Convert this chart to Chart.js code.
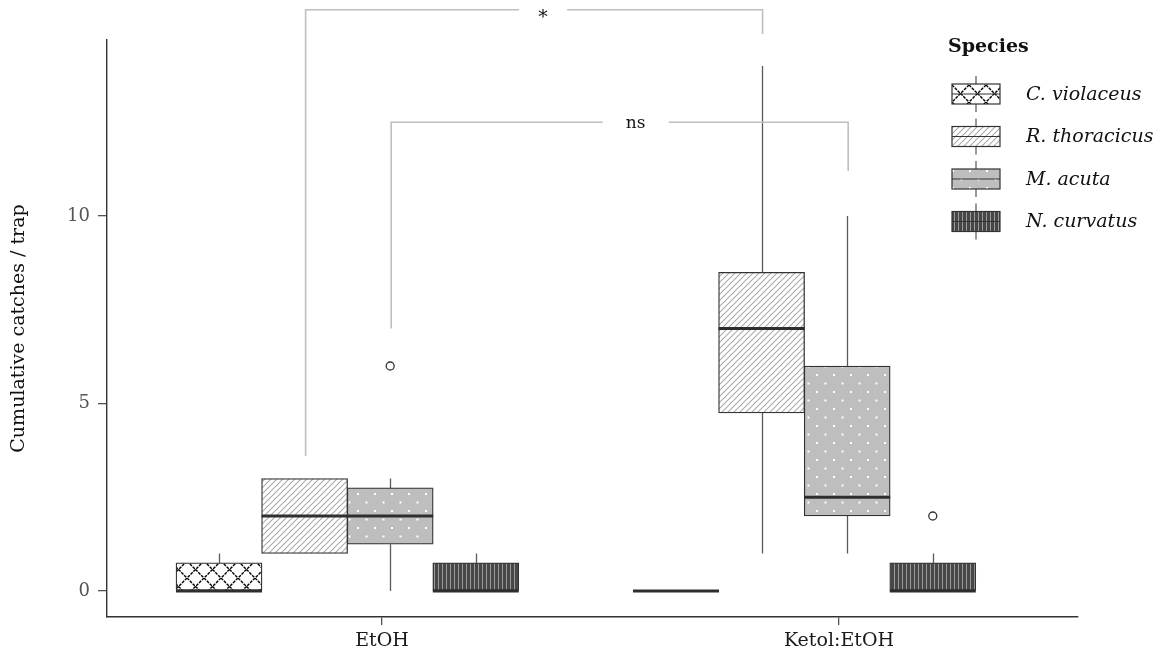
<!DOCTYPE html>
<html>
<head>
<meta charset="utf-8">
<script src="https://cdn.jsdelivr.net/npm/chart.js@4.4.1/dist/chart.umd.min.js"></script>
<style>
  html, body { margin: 0; padding: 0; background: #fff; }
  #wrap { width: 1162px; height: 659px; }
</style>
</head>
<body>
<div id="wrap"><canvas id="chart" width="1162" height="659"></canvas></div>
<script>
const categories = ['EtOH', 'Ketol:EtOH'];
const species = ['C. violaceus', 'R. thoracicus', 'M. acuta', 'N. curvatus'];

// one row per species, one column per treatment
const lowerWhisker  = [[0, 0], [1, 1], [0, 1], [0, 0]];
const lowerQuartile = [[0, 0], [1, 4.75], [1.25, 2], [0, 0]];
const medians       = [[0, 0], [2, 7], [2, 2.5], [0, 0]];
const upperQuartile = [[0.75, 0], [3, 8.5], [2.75, 6], [0.75, 0.75]];
const upperWhisker  = [[1, 0], [3, 14], [3, 10], [1, 1]];
const outliers      = [[[], []], [[], []], [[6], []], [[], [2]]];

const yTicks = [0, 5, 10];

// significance brackets (same species, EtOH vs Ketol:EtOH)
const bracketSpecies  = [1, 2];
const bracketLabels   = ['*', 'ns'];
const bracketTop      = [15.5, 12.5];
const bracketLeftEnd  = [3.6, 7];
const bracketRightEnd = [14.85, 11.2];

// layout
const dodgeStart = -0.3567, dodgeStep = 0.1873;   // box offsets in category units
const boxPx = 86;
const FONT = "'DejaVu Serif', serif";
Chart.defaults.font.family = FONT;

const ctx = document.getElementById('chart').getContext('2d');

function makePattern(w, h, draw) {
    const c = document.createElement('canvas');
    c.width = w; c.height = h;
    draw(c.getContext('2d'), w, h);
    return ctx.createPattern(c, 'repeat');
}

const patterns = [
    makePattern(17, 17, (g, w, h) => {
        g.fillStyle = '#fff'; g.fillRect(0, 0, w, h);
        g.strokeStyle = '#000'; g.lineWidth = 1.4;
        g.setLineDash([3, 1]);
        g.beginPath();
        g.moveTo(0, 0); g.lineTo(w, h);
        g.moveTo(w, 0); g.lineTo(0, h);
        g.stroke();
    }),
    makePattern(6, 6, (g, w, h) => {
        g.fillStyle = '#fff'; g.fillRect(0, 0, w, h);
        g.strokeStyle = '#ababab'; g.lineWidth = 1.1;
        g.beginPath();
        g.moveTo(0, h); g.lineTo(w, 0);
        g.moveTo(-1, 1); g.lineTo(1, -1);
        g.moveTo(w - 1, h + 1); g.lineTo(w + 1, h - 1);
        g.stroke();
    }),
    makePattern(17, 17, (g, w, h) => {
        g.fillStyle = '#bebebe'; g.fillRect(0, 0, w, h);
        g.fillStyle = '#fff';
        g.fillRect(0, 0, 2, 2);
        g.fillRect(8.5, 8.5, 2, 2);
    }),
    makePattern(4, 4, (g, w, h) => {
        g.fillStyle = '#474747'; g.fillRect(0, 0, w, h);
        g.fillStyle = '#9a9a9a'; g.fillRect(2, 0, 1, h);
    })
];

const boxX = (s, i) => i + dodgeStart + s * dodgeStep;

const boxDatasets = species.map((name, s) => ({
    type: 'bar',
    label: name,
    data: categories.map((c, i) => ({ x: boxX(s, i), y: [lowerQuartile[s][i], upperQuartile[s][i]] })),
    backgroundColor: patterns[s],
    borderColor: '#333',
    borderWidth: 1.3,
    borderSkipped: false,
    barThickness: boxPx,
    grouped: false,
    order: 2
}));

const outlierPoints = [];
species.forEach((name, s) => categories.forEach((c, i) => {
    outliers[s][i].forEach(v => outlierPoints.push({ x: boxX(s, i), y: v }));
}));

const boxPlugin = {
    id: 'boxParts',
    beforeDatasetsDraw(chart) {
        const { ctx, scales: { x, y } } = chart;
        ctx.save();
        ctx.strokeStyle = '#5a5a5a';
        ctx.lineWidth = 1.3;
        species.forEach((name, s) => categories.forEach((c, i) => {
            const px = Math.round(x.getPixelForValue(boxX(s, i))) + 0.5;
            ctx.beginPath();
            ctx.moveTo(px, y.getPixelForValue(upperQuartile[s][i]));
            ctx.lineTo(px, y.getPixelForValue(upperWhisker[s][i]));
            ctx.moveTo(px, y.getPixelForValue(lowerQuartile[s][i]));
            ctx.lineTo(px, y.getPixelForValue(lowerWhisker[s][i]));
            ctx.stroke();
        }));
        ctx.restore();
    },
    afterDatasetsDraw(chart) {
        const { ctx, scales: { x, y } } = chart;
        ctx.save();
        ctx.strokeStyle = '#2e2e2e';
        ctx.lineWidth = 3;
        species.forEach((name, s) => categories.forEach((c, i) => {
            const px = x.getPixelForValue(boxX(s, i));
            const py = y.getPixelForValue(medians[s][i]);
            ctx.beginPath();
            ctx.moveTo(px - boxPx / 2, py);
            ctx.lineTo(px + boxPx / 2, py);
            ctx.stroke();
        }));
        ctx.restore();
    }
};

const bracketPlugin = {
    id: 'brackets',
    afterDraw(chart) {
        const { ctx, scales: { x, y } } = chart;
        const nudge = [9, 16], gap = [24, 33], fontSize = [19, 17], textDy = [8, 1];
        ctx.save();
        bracketSpecies.forEach((s, k) => {
            const x1 = x.getPixelForValue(boxX(s, 0)) + 1;
            const x2 = x.getPixelForValue(boxX(s, 1)) + 1;
            const top = y.getPixelForValue(bracketTop[k]);
            const mid = (x1 + x2) / 2 + nudge[k];
            ctx.strokeStyle = '#bfbfbf';
            ctx.lineWidth = 1.6;
            ctx.beginPath();
            ctx.moveTo(x1, y.getPixelForValue(bracketLeftEnd[k]));
            ctx.lineTo(x1, top);
            ctx.lineTo(mid - gap[k], top);
            ctx.moveTo(mid + gap[k], top);
            ctx.lineTo(x2, top);
            ctx.lineTo(x2, y.getPixelForValue(bracketRightEnd[k]));
            ctx.stroke();
            ctx.fillStyle = '#111';
            ctx.font = fontSize[k] + 'px ' + FONT;
            ctx.textAlign = 'center';
            ctx.textBaseline = 'middle';
            ctx.fillText(bracketLabels[k], mid, top + textDy[k]);
        });
        ctx.restore();
    }
};

const legendPlugin = {
    id: 'speciesLegend',
    afterDraw(chart) {
        const { ctx } = chart;
        ctx.save();
        ctx.fillStyle = '#111';
        ctx.font = 'bold 19px ' + FONT;
        ctx.textAlign = 'left';
        ctx.textBaseline = 'middle';
        ctx.fillText('Species', 948, 47);
        species.forEach((name, s) => {
            const cy = 94 + s * 42.5;
            const left = 952, w = 48, h = 20;
            ctx.strokeStyle = '#555';
            ctx.lineWidth = 1.2;
            ctx.beginPath();
            ctx.moveTo(left + w / 2, cy - 18);
            ctx.lineTo(left + w / 2, cy + 18);
            ctx.stroke();
            ctx.fillStyle = patterns[s];
            ctx.fillRect(left, cy - h / 2, w, h);
            ctx.strokeStyle = '#333';
            ctx.lineWidth = 1.2;
            ctx.strokeRect(left, cy - h / 2, w, h);
            ctx.beginPath();
            ctx.moveTo(left, cy); ctx.lineTo(left + w, cy);
            ctx.stroke();
            ctx.fillStyle = '#111';
            ctx.font = 'italic 19px ' + FONT;
            ctx.fillText(name, 1026, cy + 1);
        });
        ctx.restore();
    }
};

new Chart(ctx, {
    type: 'bar',
    data: {
        datasets: [
            ...boxDatasets,
            {
                type: 'scatter',
                label: 'outliers',
                data: outlierPoints,
                pointStyle: 'circle',
                radius: 4,
                backgroundColor: '#fff',
                borderColor: '#333',
                borderWidth: 1.3,
                order: 1
            }
        ]
    },
    options: {
        responsive: false,
        animation: false,
        layout: { padding: { left: 0, top: 40, right: 84, bottom: 0 } },
        plugins: { legend: { display: false }, tooltip: { enabled: false } },
        scales: {
            x: {
                type: 'linear',
                offset: false,
                min: -0.6018,
                max: 1.523,
                afterBuildTicks: scale => { scale.ticks = categories.map((c, i) => ({ value: i })); },
                afterFit: scale => { scale.height = 42; },
                ticks: {
                    callback: (v, idx) => categories[idx],
                    color: '#1a1a1a',
                    font: { size: 19 },
                    padding: 5,
                    maxRotation: 0
                },
                grid: { offset: false, drawOnChartArea: false, drawTicks: true, tickLength: 8, color: '#555', lineWidth: 1.3 },
                border: { display: true, color: '#333', width: 1.4 }
            },
            y: {
                type: 'linear',
                min: -0.693,
                max: 14.693,
                afterBuildTicks: scale => { scale.ticks = yTicks.map(v => ({ value: v })); },
                afterFit: scale => { scale.width = 107; },
                ticks: { color: '#555', font: { size: 18 }, padding: 8 },
                grid: { drawOnChartArea: false, drawTicks: true, tickLength: 9, color: '#555', lineWidth: 1.3 },
                border: { display: true, color: '#333', width: 1.4 },
                title: {
                    display: true,
                    text: 'Cumulative catches / trap',
                    color: '#111',
                    font: { size: 19 },
                    padding: { top: 8, bottom: 0 }
                }
            }
        }
    },
    plugins: [boxPlugin, bracketPlugin, legendPlugin]
});
</script>
</body>
</html>
